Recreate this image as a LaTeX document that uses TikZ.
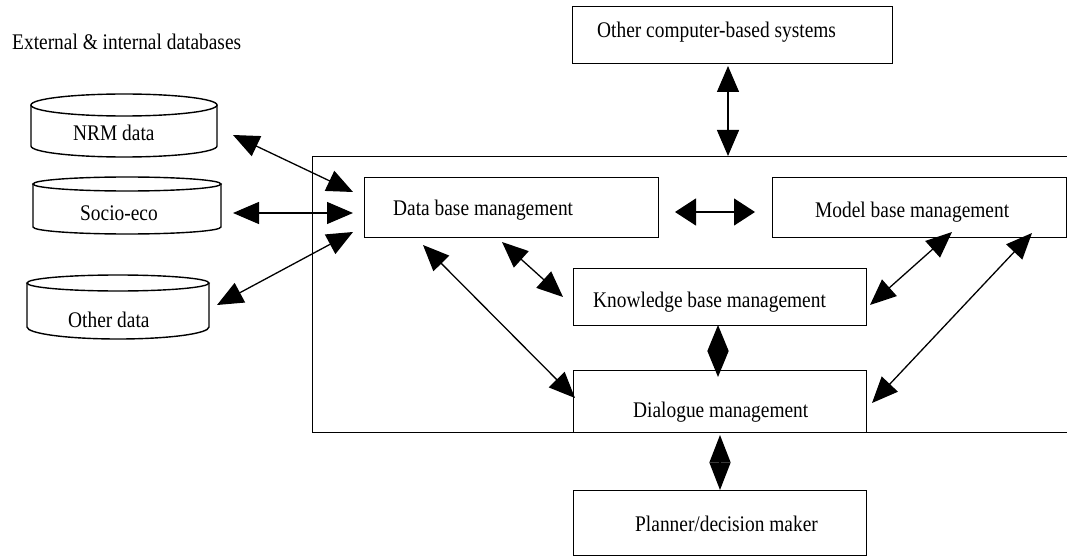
\documentclass[tikz,border=0pt]{standalone}
\usepackage{graphicx}
\usepackage{fontspec}
\setmainfont{Liberation Serif}
\usetikzlibrary{arrows.meta}
\newcommand\tallt[1]{\scalebox{1}[1.15]{#1}}
\begin{document}
\begin{tikzpicture}[x=1pt,y=-1pt,
  box/.style={draw, line width=1.4pt, inner sep=0pt, anchor=north west},
  lbl/.style={font=\fontsize{19.4}{22}\selectfont, inner sep=0pt, anchor=west},
  cyl/.style={draw, line width=1.4pt},
  conn/.style={line width=1.3pt, {Triangle[length=26pt,width=22pt]}-{Triangle[length=26pt,width=22pt]}},
  connd/.style={line width=1.3pt, {Triangle[length=27.5pt,width=21pt]}-{Triangle[length=27.5pt,width=21pt]}},
  connw/.style={line width=1.3pt, {Triangle[length=21pt,width=27pt]}-{Triangle[length=21pt,width=27pt]}}]
\clip (0,0) rectangle (1067,556);
\fill[white] (0,0) rectangle (1067,556);

% title
\node[lbl] (title) at (12,42) {\tallt{External \& internal databases}};

% cylinders
\draw[cyl] (124,105) ellipse [x radius=93, y radius=11];
\draw[cyl] (31,105) -- (31,146) arc[start angle=180, end angle=0, x radius=93, y radius=11] -- (217,105);
\node[lbl] (nrm) at (73,133) {\tallt{NRM data}};

\draw[cyl] (127,184) ellipse [x radius=94, y radius=7];
\draw[cyl] (33,184) -- (33,227) arc[start angle=180, end angle=0, x radius=94, y radius=7] -- (221,184);
\node[lbl] (soc) at (80,213) {\tallt{Socio-eco}};

\draw[cyl] (118,283) ellipse [x radius=91, y radius=8];
\draw[cyl] (27,283) -- (27,327) arc[start angle=180, end angle=0, x radius=91, y radius=12] -- (209,283);
\node[lbl] (oth) at (68,320) {\tallt{Other data}};

% system boundary
\node[box, minimum width=762pt, minimum height=276pt] (sys) at (312,156) {};

% boxes
\node[box, minimum width=320pt, minimum height=57pt] (ocs) at (572,6) {};
\node[lbl] (ocst) at (597,32) {\tallt{Other computer-based systems}};

\node[box, minimum width=294pt, minimum height=60pt] (db) at (364,177) {};
\node[lbl] (dbt) at (393,210) {\tallt{Data base management}};

\node[box, minimum width=294pt, minimum height=60pt] (mb) at (772,177) {};
\node[lbl] (mbt) at (815,212) {\tallt{Model base management}};

\node[box, minimum width=293pt, minimum height=57pt] (kb) at (573,268) {};
\node[lbl] (kbt) at (593,302) {\tallt{Knowledge base management}};

\node[box, minimum width=293pt, minimum height=62pt] (dm) at (573,370) {};
\node[lbl] (dmt) at (633,412) {\tallt{Dialogue management}};

\node[box, minimum width=293pt, minimum height=65pt] (pl) at (573,490) {};
\node[lbl] (plt) at (635,524) {\tallt{Planner/decision maker}};

% connector end points
\coordinate (a1) at (728,66);  \coordinate (a2) at (728,156);
\coordinate (b1) at (718,325); \coordinate (b2) at (718,377);
\coordinate (c1) at (720,435); \coordinate (c2) at (720,490);
\coordinate (d1) at (675,212); \coordinate (d2) at (755,212);
\coordinate (e1) at (233,135); \coordinate (e2) at (353,192);
\coordinate (f1) at (233,213); \coordinate (f2) at (353,213);
\coordinate (g1) at (217,305); \coordinate (g2) at (353,232);
\coordinate (h1) at (502,242); \coordinate (h2) at (563,297);
\coordinate (i1) at (423,245); \coordinate (i2) at (575,398);
\coordinate (j1) at (952,232); \coordinate (j2) at (870,305);
\coordinate (k1) at (1032,233); \coordinate (k2) at (872,403);

\draw[conn] (a1) -- (a2);
\draw[line width=1.3pt, {Triangle[length=26pt,width=21pt]}-{Triangle[length=26pt,width=21pt]}] (b1) -- (b2);
\draw[connd] (c1) -- (c2);
\draw[connw] (d1) -- (d2);
\draw[conn] (e1) -- (e2);
\draw[conn] (f1) -- (f2);
\draw[conn] (g1) -- (g2);
\draw[conn] (h1) -- (h2);
\draw[conn] (i1) -- (i2);
\draw[conn] (j1) -- (j2);
\draw[conn] (k1) -- (k2);
\end{tikzpicture}
\end{document}
